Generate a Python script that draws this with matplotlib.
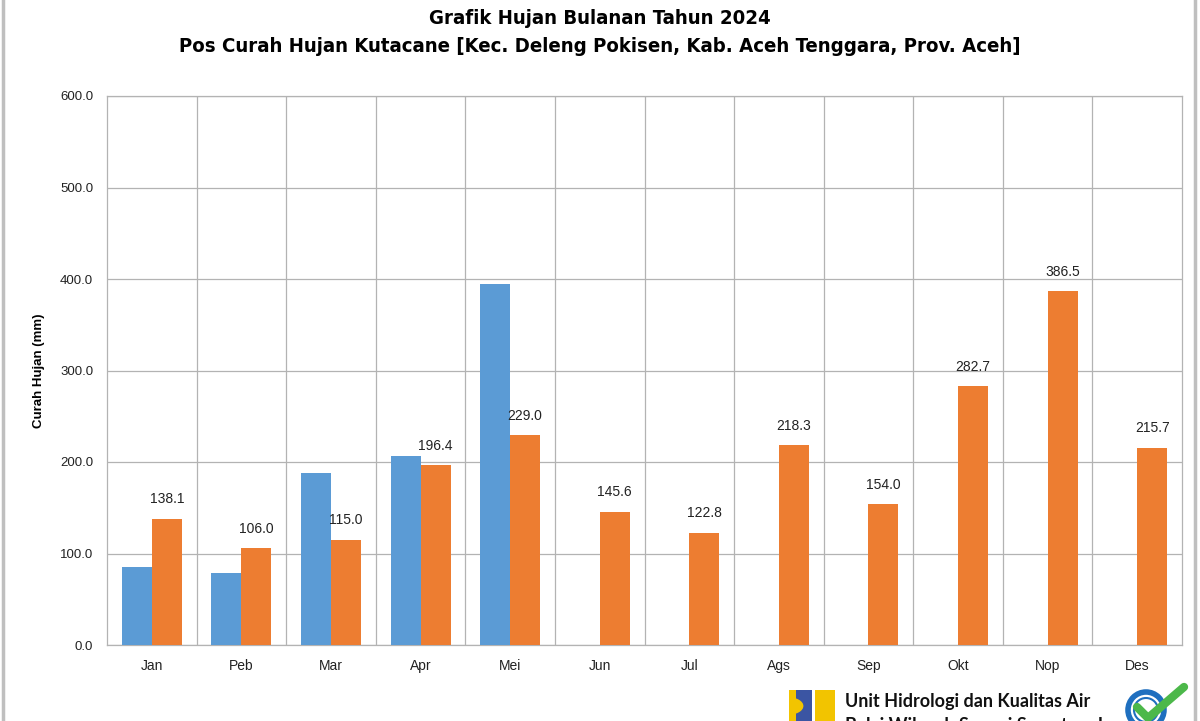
import matplotlib
matplotlib.use("Agg")
import matplotlib.pyplot as plt
import numpy as np
from matplotlib import font_manager
from matplotlib.patches import Rectangle, Circle, Wedge
from matplotlib.lines import Line2D

months = ["Jan", "Peb", "Mar", "Apr", "Mei", "Jun", "Jul", "Ags", "Sep", "Okt", "Nop", "Des"]
series_blue = [85.0, 78.5, 188.5, 207.0, 394.5, np.nan, np.nan, np.nan, np.nan, np.nan, np.nan, np.nan]
series_orange = [138.1, 106.0, 115.0, 196.4, 229.0, 145.6, 122.8, 218.3, 154.0, 282.7, 386.5, 215.7]
yticks = [0, 100, 200, 300, 400, 500, 600]

title1 = "Grafik Hujan Bulanan Tahun 2024"
title2 = "Pos Curah Hujan Kutacane [Kec. Deleng Pokisen, Kab. Aceh Tenggara, Prov. Aceh]"
ylabel = "Curah Hujan (mm)"

BLUE = "#5B9BD5"
ORANGE = "#ED7D31"
GRID = "#b3b3b3"

# choose a condensed font for the title if one is available
fonts = font_manager.fontManager.ttflist
names = {f.name for f in fonts}
title_kw = dict(family=["Liberation Sans", "DejaVu Sans"], fontsize=15.5)
if "Liberation Sans Narrow" in names:
    title_kw = dict(family=["Liberation Sans Narrow", "DejaVu Sans"], fontsize=18.5)
elif any(f.name == "DejaVu Sans" and f.stretch == "condensed" and f.weight in ("bold", 700) for f in fonts):
    title_kw = dict(family=["DejaVu Sans"], fontstretch="condensed", fontsize=14.6)

W, H = 1200, 721
fig = plt.figure(figsize=(12, 7.21), dpi=100)
ax = fig.add_axes([107 / W, (H - 645) / H, (1182 - 107) / W, (645 - 96) / H])

x = np.arange(len(months))
bw = 0.335
ax.bar(x - bw / 2, series_blue, width=bw, color=BLUE, zorder=3)
ax.bar(x + bw / 2, series_orange, width=bw, color=ORANGE, zorder=3)

for xi, v in zip(x, series_orange):
    ax.annotate(f"{v:.1f}", (xi + bw / 2, v), xytext=(0, 9), textcoords="offset points",
                ha="center", va="bottom", fontsize=10, family="Liberation Sans", color="#222222")

ax.set_xlim(-0.5, len(months) - 0.5)
ax.set_ylim(0, 600)
ax.set_yticks(yticks)
ax.set_yticklabels([f"{t:.1f}" for t in yticks], family="Liberation Sans", fontsize=9.5)
ax.set_xticks(x)
ax.set_xticklabels(months, family="Liberation Sans", fontsize=10)
ax.tick_params(axis="both", length=0, colors="#222222")
ax.tick_params(axis="y", pad=10)
ax.tick_params(axis="x", pad=10)

for yv in yticks:
    ax.axhline(yv, color=GRID, lw=0.9, zorder=1)
for b in np.arange(0.5, len(months) - 0.5, 1):
    ax.axvline(b, color=GRID, lw=0.9, zorder=1)
for s in ax.spines.values():
    s.set_color(GRID)
    s.set_linewidth(0.9)

ax.set_ylabel(ylabel, family="Liberation Sans", fontsize=9.5, fontweight="bold")
ax.yaxis.set_label_coords((45 - 107) / 1075, 0.5)

fig.text(0.5, 1 - 18 / H, title1, ha="center", va="center", fontweight="bold", **title_kw)
fig.text(0.5, 1 - 47 / H, title2, ha="center", va="center", fontweight="bold", **title_kw)

# figure frame lines
fig.add_artist(Line2D([2.5 / W, 2.5 / W], [0, 1], color="#bfbfbf", lw=2.5))
fig.add_artist(Line2D([1195 / W, 1195 / W], [0, 1], color="#bfbfbf", lw=2.5))


def fx(px):
    return px / W


def fy(py):
    return 1 - py / H


# logo
fig.add_artist(Rectangle((fx(789), fy(721)), fx(23), 31 / H, color="#3b55a3", lw=0))
fig.add_artist(Wedge((fx(789), fy(706)), 9 / W * 1.6, -90, 90, color="#f2c400", lw=0,
                     transform=fig.transFigure))
fig.add_artist(Rectangle((fx(789), fy(721)), fx(7), 31 / H, color="#f2c400", lw=0))
fig.add_artist(Rectangle((fx(815), fy(721)), fx(20), 31 / H, color="#f2c400", lw=0))

logo_font = ["Lato", "Open Sans", "DejaVu Sans"]
fig.text(fx(845), fy(702), "Unit Hidrologi dan Kualitas Air", ha="left", va="center",
         fontsize=13, fontweight="bold", family=logo_font, color="#111111")
fig.text(fx(845), fy(725), "Balai Wilayah Sungai Sumatera I", ha="left", va="center",
         fontsize=13, fontweight="bold", family=logo_font, color="#111111")

# ISO badge (simplified)
ax_iso = fig.add_axes([fx(1124), -10 / H, 66 / W, 50 / H])
ax_iso.set_xlim(0, 66)
ax_iso.set_ylim(0, 50)
ax_iso.set_aspect("equal")
ax_iso.axis("off")
ax_iso.add_patch(Circle((22, 21), 18, facecolor="none", edgecolor="#1f6fbf", lw=4))
ax_iso.add_patch(Circle((22, 21), 12, facecolor="none", edgecolor="#1f6fbf", lw=1.5))
ax_iso.plot([13, 24, 60], [24, 13, 44], color="#4cb84a", lw=6, solid_capstyle="round")

fig.savefig("out.png", dpi=100)
